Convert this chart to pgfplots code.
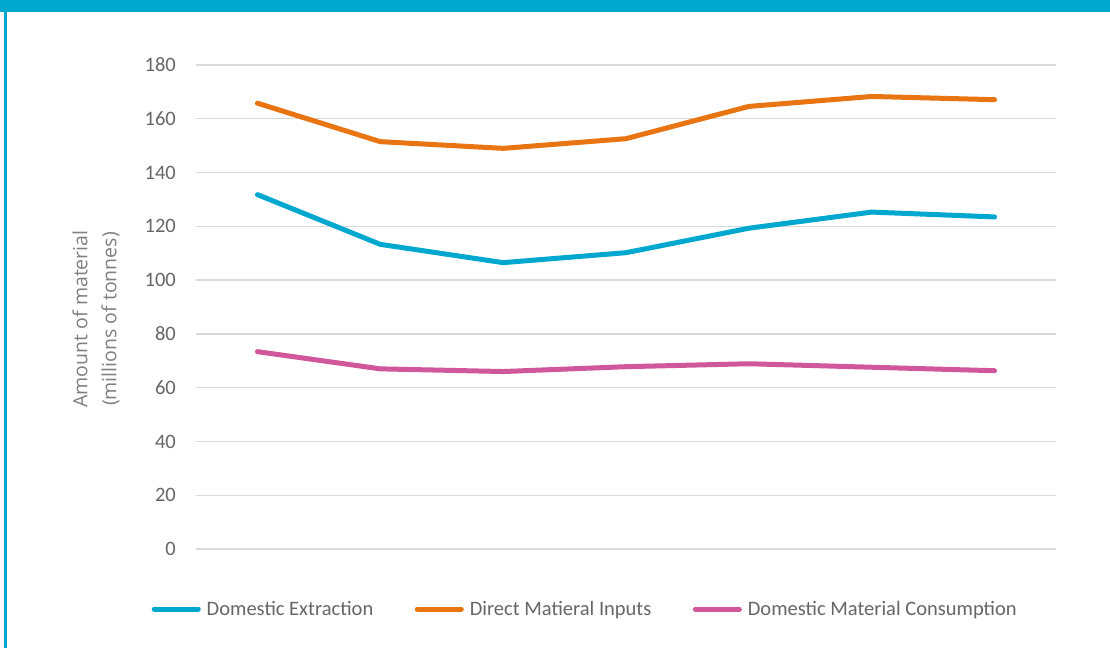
\documentclass[border=0pt]{standalone}
\usepackage{fontspec}
\setmainfont{Carlito}
\newfontfamily\labelfont{Open Sans}
\usepackage{pgfplots}
\pgfplotsset{compat=1.18}

\definecolor{banner}{HTML}{00A8D0}
\definecolor{extraction}{HTML}{00A8D0}
\definecolor{inputs}{HTML}{E87511}
\definecolor{consumption}{HTML}{D0579B}
\definecolor{gridgray}{HTML}{D9D9D9}
\definecolor{ticktext}{HTML}{666666}
\definecolor{labeltext}{HTML}{808080}

\begin{document}
\begin{tikzpicture}
% page frame: white sheet, coloured header band and left rule
\fill[white] (0,0) rectangle (1110bp,-648bp);
\path[use as bounding box] (0,0) rectangle (1110bp,-648bp);
\fill[banner] (0,0) rectangle (1110bp,-12bp);
\fill[banner] (4bp,-12bp) rectangle (7bp,-648bp);

\begin{axis}[
  at={(196bp,-549bp)}, anchor=south west,
  width=860bp, height=484bp, scale only axis,
  xmin=-0.5, xmax=6.5, ymin=0, ymax=180,
  xtick=\empty, ytick={0,20,...,180},
  axis line style={draw=none},
  ymajorgrids, grid style={gridgray, line width=1.3bp},
  major tick length=0pt,
  /pgf/number format/assume math mode=true,
  yticklabel style={font=\fontsize{20.5bp}{24bp}\selectfont, text=ticktext,
    anchor=east, inner sep=0pt, xshift=-20bp},
  clip=false,
  legend columns=3,
  legend style={at={(-0.0517,-0.124)}, anchor=west, draw=none, fill=none,
    inner sep=0pt,
    nodes={inner sep=0pt, text=ticktext, font=\fontsize{20.5bp}{24bp}\selectfont},
    /tikz/every odd column/.append style={column sep=6bp},
    /tikz/every even column/.append style={column sep=41.5bp}},
  legend image code/.code={\draw[#1, line width=5bp, line cap=round] (0bp,0bp) -- (44bp,0bp);},
  every axis plot/.append style={line width=5bp, line cap=round, line join=round, mark=none},
]
\addplot[extraction] coordinates {
  (0,131.8) (1,113.3) (2,106.5) (3,110.2) (4,119.3) (5,125.3) (6,123.5)};
\addlegendentry{Domestic Extraction}
\addplot[inputs] coordinates {
  (0,165.8) (1,151.5) (2,149.0) (3,152.6) (4,164.6) (5,168.3) (6,167.1)};
\addlegendentry{Direct Matieral Inputs}
\addplot[consumption] coordinates {
  (0,73.4) (1,67.0) (2,66.0) (3,67.8) (4,68.9) (5,67.6) (6,66.3)};
\addlegendentry{Domestic Material Consumption}
\end{axis}

\node[rotate=90, align=center, text=labeltext,
  font=\labelfont\fontsize{19.5bp}{29bp}\selectfont] at (96bp,-319bp)
  {Amount of material\\(millions of tonnes)};
\end{tikzpicture}
\end{document}
